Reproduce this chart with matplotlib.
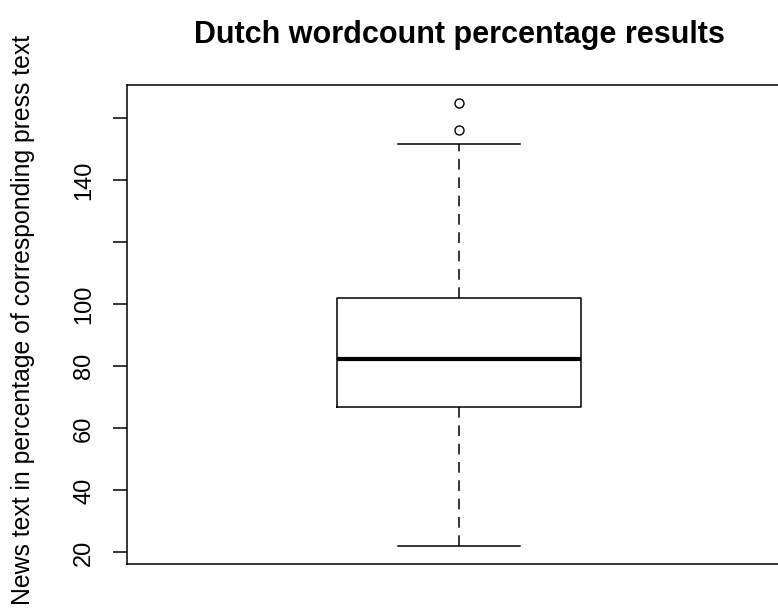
import matplotlib
matplotlib.use('Agg')
import matplotlib.pyplot as plt

# boxplot statistics
q1 = 67.0
median = 82.5
q3 = 102.0
whisker_low = 22.0
whisker_high = 151.6
outliers = [156.3, 165.0]

tick_values = [20, 40, 60, 80, 100, 120, 140, 160]
tick_labels = ['20', '40', '60', '80', '100', '', '140', '']

plt.rcParams['font.family'] = ['Liberation Sans', 'DejaVu Sans']

fig = plt.figure(figsize=(7.78, 6.12), dpi=100)
# the plot region runs past the right edge of the picture, as in the reference
ax = fig.add_axes([127 / 778, 1 - 564 / 612, 664 / 778, (564 - 85) / 612])

stats = [{
    'q1': q1, 'med': median, 'q3': q3,
    'whislo': whisker_low, 'whishi': whisker_high,
    'fliers': outliers,
}]
ax.bxp(stats, positions=[1], widths=0.367, showcaps=True,
       boxprops=dict(color='black', linewidth=1.1),
       medianprops=dict(color='black', linewidth=3.0, solid_capstyle='butt'),
       whiskerprops=dict(color='black', linewidth=1.1, linestyle=(0, (7, 5))),
       capprops=dict(color='black', linewidth=1.1),
       flierprops=dict(marker='o', markerfacecolor='none', markeredgecolor='black',
                       markersize=6.5, markeredgewidth=1.0))

# R style axis range: data range plus 4% on each side
lo = min([whisker_low] + outliers)
hi = max([whisker_high] + outliers)
span = hi - lo
ax.set_ylim(lo - 0.04 * span, hi + 0.04 * span)
ax.set_xlim(0.5, 1.5)

ax.set_xticks([])
ax.set_yticks(tick_values)
ax.set_yticklabels(tick_labels, rotation=90, va='center', fontsize=17)
ax.tick_params(axis='y', direction='out', length=10, width=1.1, pad=13)
for side in ['left', 'bottom', 'top', 'right']:
    ax.spines[side].set_linewidth(1.1)

fig.text(23 / 778, 1 - 320 / 612, 'News text in percentage of corresponding press text',
         rotation=90, ha='center', va='center', fontsize=17.8)
ax.set_title('Dutch wordcount percentage results', fontsize=22, fontweight='bold', pad=30)

fig.savefig('out.png', dpi=100)
